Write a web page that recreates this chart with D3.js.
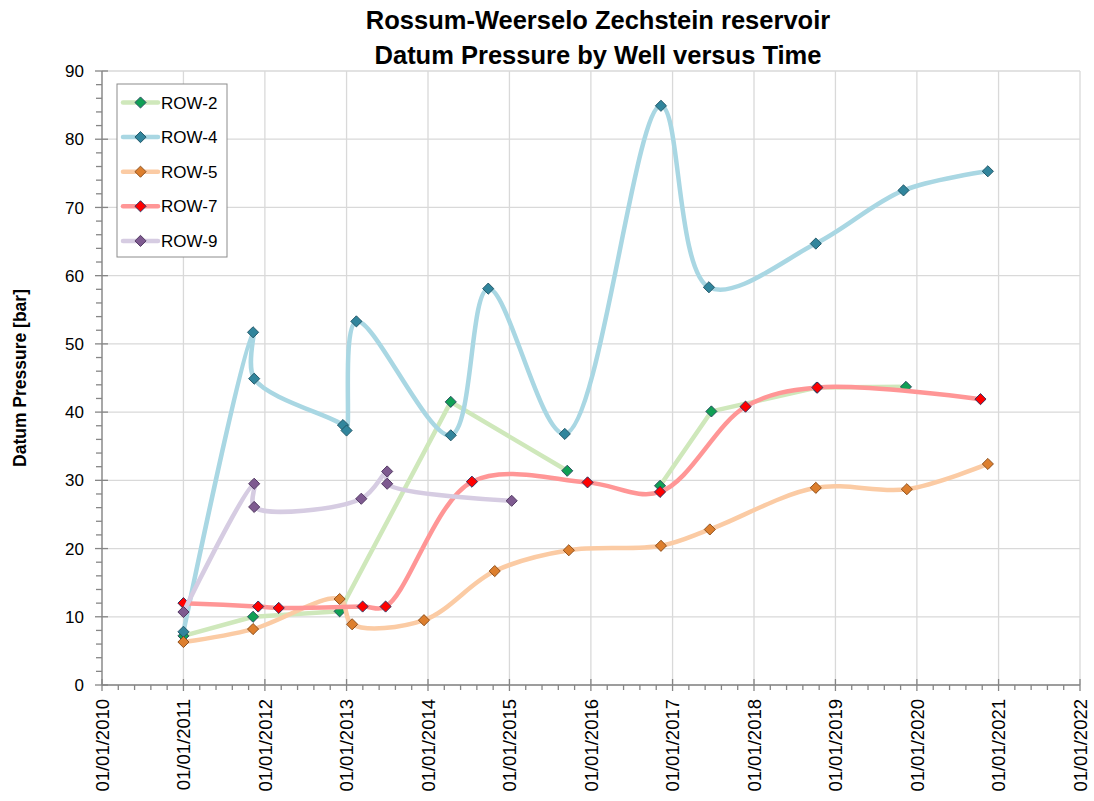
<!DOCTYPE html>
<html>
<head>
<meta charset="utf-8">
<script src="https://cdn.jsdelivr.net/npm/d3@7"></script>
<style>
  body { margin: 0; background: #fff; }
  text { font-family: "Liberation Sans", Arial, sans-serif; fill: #000; }
</style>
</head>
<body>
<div id="chart"></div>
<script>
// Well names, in legend order
const wells = ["ROW-2", "ROW-4", "ROW-5", "ROW-7", "ROW-9"];

// Measured datum pressures [bar] per well (null = gap in the line)
const row2Dates = ["2011-01-01", "2011-11-09", "2012-12-01", "2014-04-13", "2015-09-17", "2016-04-01", "2016-11-06", "2017-06-24", "2018-10-09", "2019-11-13"];
const row2Values = [7.2, 10.0, 10.8, 41.5, 31.4, null, 29.2, 40.1, 43.6, 43.7];

const row4Dates = ["2011-01-01", "2011-11-09", "2011-11-14", "2012-12-16", "2013-01-01", "2013-02-14", "2014-04-13", "2014-09-28", "2015-09-06", "2016-11-10", "2017-06-13", "2018-10-05", "2019-11-02", "2020-11-14"];
const row4Values = [7.8, 51.7, 44.9, 38.1, 37.3, 53.3, 36.6, 58.1, 36.8, 84.9, 58.3, 64.7, 72.5, 75.3];

const row5Dates = ["2011-01-01", "2011-11-09", "2012-12-01", "2013-01-26", "2013-12-14", "2014-10-27", "2015-09-24", "2016-11-10", "2017-06-17", "2018-10-05", "2019-11-17", "2020-11-14"];
const row5Values = [6.3, 8.2, 12.6, 8.9, 9.5, 16.7, 19.75, 20.4, 22.8, 28.9, 28.7, 32.4];

const row7Dates = ["2011-01-01", "2011-12-02", "2012-03-03", "2013-03-14", "2013-06-25", "2014-07-17", "2015-12-17", "2016-11-06", "2017-11-24", "2018-10-12", "2020-10-12"];
const row7Values = [12.0, 11.5, 11.3, 11.5, 11.5, 29.8, 29.7, 28.3, 40.8, 43.6, 41.9];

const row9Dates = ["2011-01-01", "2011-11-14", "2011-11-14", "2013-03-08", "2013-07-02", "2013-07-02", "2015-01-11"];
const row9Values = [10.7, 29.5, 26.1, 27.3, 31.3, 29.5, 27.0];

// Axis ranges
const dateDomain = ["2010-01-01", "2022-01-01"];
const pressureDomain = [0, 90];

const titleLines = ["Rossum-Weerselo Zechstein reservoir", "Datum Pressure by Well versus Time"];
const yTitle = "Datum Pressure [bar]";

// Styles
const lineColors = ["#cfe8bb", "#a9d7e3", "#fbcba4", "#ff9696", "#d6cce2"];
const markerFills = ["#10a055", "#31859c", "#dd7f2e", "#ff0000", "#7e5a90"];
const markerStrokes = ["#2a4a60", "#1f5566", "#8a4d1a", "#2b2f5e", "#4f3560"];
const smoothed = [false, true, true, true, true];

class PressureChart {
    constructor(_parentElement) {
        this.parentElement = _parentElement;
        const parse = d3.utcParse("%Y-%m-%d");
        const dates = [row2Dates, row4Dates, row5Dates, row7Dates, row9Dates];
        const values = [row2Values, row4Values, row5Values, row7Values, row9Values];
        this.series = wells.map((name, i) => ({
            name: name,
            idx: i,
            points: dates[i].map((d, j) => ({ date: parse(d), value: values[i][j] }))
        }));
        this.parse = parse;
        this.initVis();
    }

    initVis() {
        let vis = this;

        vis.svg = d3.select("#" + vis.parentElement).append("svg")
            .attr("width", 1094)
            .attr("height", 801);

        vis.svg.append("rect").attr("width", 1094).attr("height", 801).attr("fill", "#fff");

        vis.x = d3.scaleUtc()
            .domain(dateDomain.map(vis.parse))
            .range([102, 1080]);

        vis.y = d3.scaleLinear()
            .domain(pressureDomain)
            .range([685, 71]);

        const years = d3.utcYear.range(vis.x.domain()[0], d3.utcYear.offset(vis.x.domain()[1], 1));
        const yMajor = d3.range(0, 91, 10);
        const yMinor = d3.range(0, 91, 2).filter(v => v % 10 !== 0);
        const xMinor = [];
        for (let i = 0; i < years.length - 1; i++) {
            for (let k = 1; k < 5; k++) {
                xMinor.push(new Date(+years[i] + (years[i + 1] - years[i]) * k / 5));
            }
        }

        // Gridlines
        const grid = vis.svg.append("g").attr("stroke", "#d9d9d9").attr("stroke-width", 1.3);
        grid.selectAll(".vg").data(years).enter().append("line")
            .attr("x1", d => vis.x(d)).attr("x2", d => vis.x(d))
            .attr("y1", vis.y(90)).attr("y2", vis.y(0));
        grid.selectAll(".hg").data(yMajor).enter().append("line")
            .attr("x1", vis.x.range()[0]).attr("x2", vis.x.range()[1])
            .attr("y1", d => vis.y(d)).attr("y2", d => vis.y(d));

        // Axes
        const axis = vis.svg.append("g").attr("stroke", "#868686").attr("stroke-width", 1.3);
        axis.append("line")
            .attr("x1", vis.x.range()[0]).attr("x2", vis.x.range()[0])
            .attr("y1", vis.y(90)).attr("y2", vis.y(0));
        axis.append("line")
            .attr("x1", vis.x.range()[0]).attr("x2", vis.x.range()[1])
            .attr("y1", vis.y(0)).attr("y2", vis.y(0));
        axis.selectAll(".ymaj").data(yMajor).enter().append("line")
            .attr("x1", vis.x.range()[0] - 7).attr("x2", vis.x.range()[0] + 6)
            .attr("y1", d => vis.y(d)).attr("y2", d => vis.y(d));
        axis.selectAll(".ymin").data(yMinor).enter().append("line")
            .attr("x1", vis.x.range()[0] - 6).attr("x2", vis.x.range()[0])
            .attr("y1", d => vis.y(d)).attr("y2", d => vis.y(d));
        axis.selectAll(".xmaj").data(years).enter().append("line")
            .attr("x1", d => vis.x(d)).attr("x2", d => vis.x(d))
            .attr("y1", vis.y(0) - 6).attr("y2", vis.y(0) + 6);
        axis.selectAll(".xmin").data(xMinor).enter().append("line")
            .attr("x1", d => vis.x(d)).attr("x2", d => vis.x(d))
            .attr("y1", vis.y(0)).attr("y2", vis.y(0) + 5);

        // Tick labels
        vis.svg.selectAll(".ylab").data(yMajor).enter().append("text")
            .attr("x", vis.x.range()[0] - 18)
            .attr("y", d => vis.y(d))
            .attr("dy", "0.36em")
            .attr("text-anchor", "end")
            .style("font-size", "17px")
            .text(d => d);

        const fmt = d3.utcFormat("%d/%m/%Y");
        vis.svg.selectAll(".xlab").data(years).enter().append("text")
            .attr("transform", d => `translate(${vis.x(d)},699) rotate(-90)`)
            .attr("dy", "0.36em")
            .attr("text-anchor", "end")
            .style("font-size", "18.5px")
            .text(d => fmt(d));

        // Titles
        vis.svg.selectAll(".title").data(titleLines).enter().append("text")
            .attr("x", 598)
            .attr("y", (d, i) => 29 + i * 35)
            .attr("text-anchor", "middle")
            .style("font-size", "25.5px")
            .style("font-weight", "bold")
            .text(d => d);

        vis.svg.append("text")
            .attr("transform", `translate(26,${(vis.y(0) + vis.y(90)) / 2}) rotate(-90)`)
            .attr("text-anchor", "middle")
            .style("font-size", "17.5px")
            .style("font-weight", "bold")
            .text(yTitle);

        // Series lines and markers
        const diamond = d3.symbol().type(d3.symbolSquare).size(62);

        vis.series.forEach(s => {
            const line = d3.line()
                .defined(d => d.value != null)
                .x(d => vis.x(d.date))
                .y(d => vis.y(d.value))
                .curve(smoothed[s.idx] ? d3.curveCatmullRom.alpha(0.5) : d3.curveLinear);

            const g = vis.svg.append("g").attr("class", "series");
            g.append("path")
                .datum(s.points)
                .attr("d", line)
                .attr("fill", "none")
                .attr("stroke", lineColors[s.idx])
                .attr("stroke-width", 4.5)
                .attr("stroke-linejoin", "round")
                .attr("stroke-linecap", "round");

            g.selectAll(".pt").data(s.points.filter(d => d.value != null)).enter().append("path")
                .attr("d", diamond)
                .attr("transform", d => `translate(${vis.x(d.date)},${vis.y(d.value)}) rotate(45)`)
                .attr("fill", markerFills[s.idx])
                .attr("stroke", markerStrokes[s.idx])
                .attr("stroke-width", 0.9);
        });

        // Legend
        const legend = vis.svg.append("g");
        legend.append("rect")
            .attr("x", 117).attr("y", 84)
            .attr("width", 110).attr("height", 173)
            .attr("fill", "#fff")
            .attr("stroke", "#8c8c8c")
            .attr("stroke-width", 1);

        const items = legend.selectAll(".item").data(vis.series).enter().append("g")
            .attr("transform", (d, i) => `translate(0,${102.5 + i * 34.6})`);
        items.append("line")
            .attr("x1", 123).attr("x2", 158)
            .attr("stroke", d => lineColors[d.idx])
            .attr("stroke-width", 4.5)
            .attr("stroke-linecap", "round");
        items.append("path")
            .attr("d", diamond)
            .attr("transform", "translate(140.5,0) rotate(45)")
            .attr("fill", d => markerFills[d.idx])
            .attr("stroke", d => markerStrokes[d.idx])
            .attr("stroke-width", 0.9);
        items.append("text")
            .attr("x", 161)
            .attr("dy", "0.36em")
            .style("font-size", "17px")
            .text(d => d.name);
    }
}

new PressureChart("chart");
</script>
</body>
</html>
